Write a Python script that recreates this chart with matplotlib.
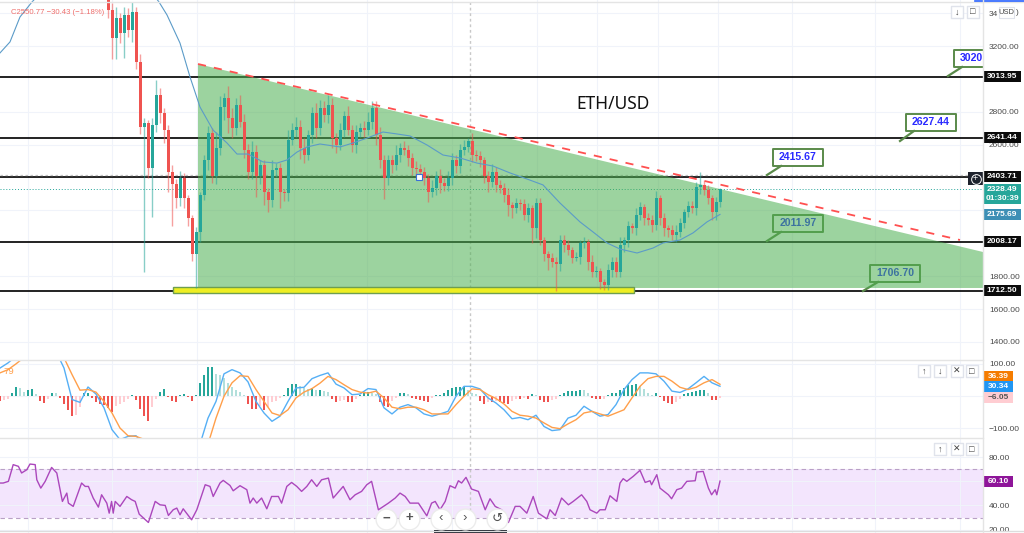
import matplotlib
matplotlib.use("Agg")
import matplotlib.pyplot as plt
import numpy as np
from matplotlib.patches import Rectangle, Polygon

plt.rcParams['font.family'] = ['Liberation Sans', 'DejaVu Sans']

# candles, one every 4 px, first one at bar 27
closes = [3419, 3249, 3370, 3279, 3389, 3297, 3407, 3103, 2707, 2732,
          2458, 2720, 2902, 2792, 2689, 2434, 2361, 2276, 2397, 2276,
          2154, 1935, 2069, 2294, 2507, 2671, 2409, 2580, 2829, 2884,
          2762, 2701, 2841, 2738, 2567, 2434, 2555, 2409, 2476, 2312,
          2263, 2446, 2458, 2312, 2306, 2628, 2689, 2707, 2580, 2537,
          2659, 2792, 2701, 2823, 2780, 2841, 2640, 2598, 2689, 2774,
          2689, 2598, 2677, 2701, 2689, 2738, 2823, 2659, 2507, 2397,
          2507, 2476, 2537, 2580, 2567, 2519, 2458, 2452, 2434, 2397,
          2312, 2336, 2409, 2367, 2349, 2397, 2507, 2470, 2567, 2586,
          2622, 2537, 2531, 2507, 2409, 2373, 2434, 2355, 2336, 2294,
          2233, 2215, 2245, 2240, 2172, 2215, 2093, 2245, 2020, 1935,
          1910, 1886, 1874, 2020, 1990, 1959, 1910, 1916, 2002, 2008,
          1886, 1825, 1830, 1764, 1746, 1837, 1886, 1825, 1990, 2020,
          2105, 2093, 2172, 2221, 2154, 2142, 2111, 2276, 2154, 2093,
          2081, 2050, 2069, 2123, 2190, 2227, 2215, 2342, 2355, 2324,
          2276, 2190, 2251, 2328.49]
first_open = 3500
wick_up = [60, 40, 70, 30, 50, 40, 60, 30, 50, 30,
           20, 40, 90, 45, 30, 30, 40, 30, 40, 30,
           20, 20, 30, 20, 30, 40, 30, 100, 70, 30,
           70, 60, 40, 60, 50, 40, 70, 40, 30, 30,
           25, 60, 30, 30, 20, 60, 40, 60, 40, 60,
           30, 40, 60, 50, 40, 60, 40, 30, 40, 30,
           60, 30, 40, 30, 40, 60, 40, 40, 50, 30,
           30, 30, 60, 30, 40, 30, 30, 40, 30, 30,
           25, 50, 30, 40, 30, 40, 40, 30, 40, 40,
           20, 50, 30, 30, 20, 30, 50, 30, 30, 30,
           40, 20, 30, 25, 30, 30, 20, 30, 30, 20,
           20, 30, 30, 30, 30, 30, 20, 30, 20, 30,
           20, 40, 30, 20, 20, 40, 30, 30, 50, 20,
           30, 20, 40, 30, 20, 30, 30, 40, 20, 30,
           20, 30, 40, 30, 20, 30, 30, 30, 80, 30,
           30, 20, 30, 10]
wick_down = [50, 130, 130, 60, 150, 40, 70, 40, 40, 880,
             60, 300, 40, 60, 80, 120, 256, 60, 50, 60,
             50, 40, 207, 60, 30, 60, 40, 50, 40, 80,
             90, 60, 40, 30, 50, 40, 40, 130, 50, 80,
             70, 40, 40, 100, 50, 50, 30, 40, 70, 50,
             30, 50, 60, 40, 40, 50, 60, 50, 30, 40,
             30, 40, 50, 30, 40, 30, 40, 60, 50, 130,
             40, 50, 30, 40, 30, 50, 40, 50, 40, 40,
             60, 30, 40, 60, 30, 30, 40, 40, 40, 30,
             30, 40, 30, 40, 40, 60, 30, 40, 30, 40,
             70, 60, 30, 40, 30, 40, 90, 60, 30, 40,
             70, 30, 165, 40, 40, 30, 30, 20, 40, 30,
             50, 30, 30, 40, 30, 30, 40, 30, 30, 40,
             40, 30, 40, 30, 40, 30, 40, 30, 40, 50,
             40, 30, 40, 30, 30, 30, 30, 40, 40, 30,
             40, 50, 50, 30]

# blue moving average on the price panel
ma_bars = [0, 2.5, 5, 8, 15, 25, 32.5, 39.75, 41.75, 45, 47.5, 50, 53.25, 56.75, 59.25, 62, 65.75, 69.25, 71.75,
           74.25, 76.75, 80, 85, 88.25, 91.75, 95.75, 99.25, 102.5, 106.75, 110.75, 115, 119.25, 123.25, 127.5,
           131.75, 135.75, 140, 145, 148.25, 151.75, 155, 159.25, 163.25, 165.75, 170, 173.25, 176.75, 180]
ma_vals = [3158, 3225, 3377, 3468, 3650, 3750, 3700, 3468, 3389, 3218, 3012, 2829, 2689, 2610, 2543, 2543, 2495, 2488, 2507,
           2555, 2586, 2604, 2586, 2610, 2640, 2677, 2665, 2653, 2598, 2537, 2519, 2488, 2470, 2428,
           2391, 2355, 2245, 2130, 2069, 2002, 1965, 1941, 1971, 2002, 2020, 2063, 2130, 2175.69]

levels = [3013.95, 2641.44, 2403.71, 2008.17, 1712.50]
level_labels = ["3013.95", "2641.44", "2403.71", "2008.17", "1712.50"]
price_ticks = [3400, 3200, 2800, 2600, 2200, 1800, 1600, 1400]
price_tick_labels = ["34", "3200.00", "2800.00", "2600.00", "", "1800.00", "1600.00", "1400.00"]
grid_px = [28, 112, 197, 294, 367, 452, 537, 597, 658, 718, 792, 875, 960]

# MACD lines, one value every 8 px
macd_line = [87, 103, 124, 150, 175, 185, 170, 139, 87, -11, -20, 28, 6, -37, -105, -136, -126, -124,
             -150, -175, -190, -200, -205, -200, -175, -150, -69, -17, 69, 82, 72, 44, -17, -53, -79, -63,
             -17, 25, 27, 54, 64, 72, 37, 25, 4, 6, 23, 20, -37, -56, -35, -27, -37, -56, -63, -56,
             -48, -1, 30, 30, 22, -6, -22, -43, -71, -67, -74, -60, -95, -108, -105, -69, -60, -32, -48, -63,
             -58, -27, 20, 51, 72, 72, 69, 46, 15, 11, 22, 41, 61, 41, 30.34]
signal_line = [72, 82, 100, 120, 150, 165, 170, 165, 119, 67, 18, 20, 12, -17, -53, -100, -124, -126,
               -135, -150, -165, -180, -190, -195, -190, -175, -150, -69, -1, 41, 63, 61, 20, -17, -53, -61,
               -43, -6, 12, 23, 40, 61, 51, 35, 20, 12, 9, 15, -6, -35, -40, -35, -35, -43, -56, -56,
               -56, -27, -1, 22, 20, 4, -8, -25, -48, -60, -63, -69, -84, -98, -102, -87, -74, -53, -48, -56,
               -63, -53, -43, -6, 30, 54, 61, 61, 46, 27, 20, 27, 41, 51, 36.39]
# MACD histogram, one value every 4 px
macd_hist = [-15, -12, -8, 8, 28, 25, 12, 18, 22, 5, -15, -22, -10, 10, 8, -5, -25, -45, -62, -60,
             -35, 8, 10, -5, -20, -25, -28, -38, -50, -30, -25, -20, -8, 4, -12, -40, -62, -78, -35, -8,
             12, 22, -3, -15, -18, 3, 6, -3, -15, 3, 40, 65, 90, 90, 70, 65, 55, 40, 28, 20,
             12, 2, -25, -40, -42, -30, -45, -35, -20, -15, -5, 3, 25, 38, 38, 30, 25, 22, 25, 18,
             20, 15, 12, -8, -18, -15, -12, -18, -20, -8, 4, 8, 12, 10, 5, -18, -30, -35, -15, -5,
             8, 8, 6, -5, -8, -12, -15, -18, -5, 2, 3, 10, 18, 25, 28, 28, 28, 20, 10, 5,
             -15, -25, -20, -20, -15, -18, -22, -25, -15, -8, -10, -6, -8, 6, 2, -12, -18, -20, -12, -8,
             3, 10, 14, 15, 17, 20, 18, 8, -5, -10, -10, -8, 4, 8, 10, 18, 25, 33, 35, 38,
             32, 22, 10, 2, 8, -3, -15, -22, -25, -20, -10, 6, 10, 12, 15, 18, 18, 10, -12, -14,
             -6.05]

# RSI read point by point
rsi_bars = [0, 0.8, 2.1, 3.3, 4.6, 5.4, 6.7, 7.5, 8.8, 9.2,
            10.2, 11.3, 12.9, 14.2, 15.6, 16.7, 17.1, 18.3, 20.4, 21.3,
            22.1, 23.3, 24.6, 25.4, 26.7, 27.3, 27.9, 28.3, 28.8, 30,
            31.7, 32.9, 33.8, 34.8, 37.1, 38.8, 40, 41.3, 42.1, 43.3,
            44.2, 45, 45.8, 47.9, 49.2, 51.3, 52.5, 53.3, 55, 55.8,
            57.5, 58.3, 60, 61.7, 62.5, 63.3, 64.2, 65.4, 66.7, 67.9,
            69.6, 70.4, 71.7, 72.9, 74.2, 75.4, 76.7, 77.9, 79.2, 80.4,
            82.1, 83.3, 85.8, 87.5, 88.8, 90.4, 91.7, 92.9, 94.6, 97.1,
            98.8, 100, 101.3, 102.5, 104.6, 106.7, 107.9, 108.8, 110, 111.3,
            112.5, 113.8, 114.6, 115.4, 116.5, 117.9, 119.6, 121.3, 122.5, 123.8,
            125.4, 127.1, 128.8, 130, 131.7, 133.3, 134.6, 136.7, 137.5, 138.8,
            140.4, 142.1, 143.3, 145.4, 146.7, 147.5, 149.2, 150, 151.3, 152.5,
            154.2, 155, 155.8, 156.7, 158.3, 160, 161.3, 162.5, 162.9, 164.2,
            165, 167.1, 167.9, 169.2, 170.4, 171.7, 173.8, 174.2, 175.8, 177.1,
            177.9, 178.8, 179.2, 180]
rsi_vals = [58.5, 58.5, 59.9, 73.7, 72.3, 66.8, 69.5, 74.2, 73.7, 61.2,
            54.3, 59.9, 71.4, 66.8, 43.3, 50.2, 41.9, 39.2, 58.5, 55.7,
            55.7, 46.1, 38.6, 48.8, 41.9, 33.6, 43.3, 33.6, 43.3, 39.2,
            47.4, 44.7, 43.3, 32.8, 25.9, 43.3, 40.5, 40, 31.7, 36.4,
            37.8, 32.2, 37.2, 28.1, 36.4, 57.1, 55.7, 47.4, 58.5, 60.7,
            56.5, 52.1, 56.3, 53, 41.9, 46.1, 41.9, 46.1, 37.2, 47.4,
            47.4, 41.9, 55.7, 59, 55.7, 51.6, 55.7, 61.2, 55.7, 61.2,
            62.6, 46.1, 55.7, 44.7, 48.8, 51.6, 57.1, 59.9, 36.4, 41.9,
            46.1, 50.2, 47.4, 41.9, 41.9, 31.4, 41.9, 43.3, 36.4, 43.3,
            56.3, 54.3, 60.4, 58.5, 63.2, 53.5, 51.6, 36.4, 45.5, 39.2,
            36.4, 25.9, 39.2, 39.2, 33.6, 47.4, 33.6, 28.9, 36.4, 31.7,
            46.1, 40.5, 43.3, 48.8, 43.3, 36.4, 33.6, 36.4, 36.4, 48,
            43.3, 58.5, 62.1, 59.9, 64, 69, 59, 60.4, 57.1, 65.4,
            54.3, 48.8, 45.5, 53, 54.3, 59.9, 60.4, 67.6, 68.1, 54.3,
            48.8, 53, 48.8, 60.1]
rsi_ticks = [80, 60, 40, 20]
rsi_tick_labels = ["80.00", "", "40.00", "20.00"]

fig = plt.figure(figsize=(10.24, 5.33), dpi=100)
W, H = 1024.0, 533.0


def panel(top, bottom):
    a = fig.add_axes([0, (H - bottom) / H, 983 / W, (bottom - top) / H])
    a.set_xlim(0, 983 / 4)
    a.set_xticks([g / 4 for g in grid_px])
    a.tick_params(length=0, labelbottom=False, labelleft=False, labelright=True, pad=4.3, labelsize=6, labelcolor="#4a4a4a")
    a.grid(True, color="#f0f3fa", lw=0.8)
    a.set_axisbelow(True)
    for s in a.spines.values():
        s.set_visible(False)
    a.axvline(470 / 4, color="#c8c8c8", lw=1, ls=(0, (2, 2)), zorder=1)
    return a


ax = panel(0, 360)
macd_ax = panel(361, 438)
rsi_ax = panel(439, 533)
ax.set_ylim(1290, 3480)
macd_ax.set_ylim(-131, 109)
rsi_ax.set_ylim(17.2, 94.9)
ax.set_yticks(price_ticks, labels=price_tick_labels)
macd_ax.set_yticks([100, 0, -100], labels=["100.00", "", "\u2212100.00"])
rsi_ax.set_yticks(rsi_ticks, labels=rsi_tick_labels)


def pos(x, y):
    # screen pixel to bar / price
    return x / 4, 3480 - 6.083 * y


# price panel
for lv in levels:
    ax.axhline(lv, color="#111111", lw=1.3, zorder=1)
ax.axhline(2413, color="#c4c4c4", lw=0.9, ls=(0, (2, 2)), zorder=1)
ax.axhline(closes[-1], color="#26a69a", lw=0.7, ls=(0, (1, 2)), zorder=1)


def callout(label, anchor, x0, y0, w=50, color="#2a2aff"):
    left, top = pos(x0, y0)
    right, bot = pos(x0 + w, y0 + 17)
    ax.add_patch(Rectangle((left, bot), right - left, top - bot, fc="white", ec="#5a8a4a", lw=1.4, joinstyle="round", zorder=1.4))
    ax_, ay = pos(*anchor)
    mx, my = pos(x0 + 8, y0 + 17)
    ax.plot([ax_, mx], [ay, my], color="#5a8a4a", lw=1.6, zorder=1.4)
    ax.text((left + right) / 2 if w == 50 else left + 1.5, (top + bot) / 2, label, color=color, fontsize=7.6, fontweight="bold",
            ha="center" if w == 50 else "left", va="center", zorder=1.5)


callout("3020", (948, 76), 954, 50, w=60)
callout("2627.44", (900, 141), 906, 114)
callout("2415.67", (767, 175), 773, 149)
callout("2011.97", (767, 241), 773, 215)
callout("1706.70", (863, 291), 870, 265)

tri = [pos(198, 64), pos(983, 252), pos(983, 288), pos(198, 288)]
ax.add_patch(Polygon(tri, closed=True, fc="#4caf50", alpha=0.55, ec="none", zorder=2))
x1, y1 = pos(173, 287)
x2, y2 = pos(634, 293)
ax.add_patch(Rectangle((x1, y2), x2 - x1, y1 - y2, fc="#eeee22", ec="#6e9e50", lw=1, zorder=2.5))
tx = [pos(198, 64)[0], pos(960, 240)[0]]
ty = [pos(198, 64)[1], pos(960, 240)[1]]
ax.plot(tx, ty, color="#ff5050", lw=1.3, ls=(0, (4.5, 4.5)), zorder=4)

# candles
closes_arr = np.array(closes, dtype=float)
opens_arr = np.r_[first_open, closes_arr[:-1]]
bars = 27 + np.arange(len(closes))
cols = np.where(closes_arr >= opens_arr, "#26a69a", "#ef5350")
highs = np.maximum(opens_arr, closes_arr) + np.array(wick_up)
lows = np.minimum(opens_arr, closes_arr) - np.array(wick_down)
ax.vlines(bars, lows, highs, colors=cols, lw=1, alpha=0.55, zorder=3)
ax.bar(bars, np.abs(closes_arr - opens_arr), bottom=np.minimum(opens_arr, closes_arr), width=0.75, color=cols, zorder=3)
ax.plot(ma_bars, ma_vals, color="#5b9bc8", lw=0.8, zorder=3.5)
ax.plot([419 / 4], [2403.71], marker="s", ms=5, mfc="white", mec="#3a6fd8", mew=0.8, zorder=5)
ax.text(*pos(613, 104), "ETH/USD", fontsize=12.5, family="Noto Sans", ha="center", va="center", color="#111111", zorder=5)

# MACD panel
hist = np.array(macd_hist, dtype=float)
prev = np.r_[hist[0], hist[:-1]]
hist_cols = []
for h, p in zip(hist, prev):
    if h >= 0:
        hist_cols.append("#26a69a" if h >= p else "#b2dfdb")
    else:
        hist_cols.append("#ef5350" if h <= p else "#ffcdd2")
macd_ax.bar(np.arange(len(hist)), hist, width=0.7, color=hist_cols, zorder=2)
macd_ax.plot(np.arange(len(macd_line)) * 2, macd_line, color="#55aff5", lw=1, zorder=3)
macd_ax.plot(np.arange(len(signal_line)) * 2, signal_line, color="#ff9f4a", lw=1, zorder=3)

# RSI panel
rsi_ax.axhspan(30, 70, fc="#f3e5fd", ec="none", zorder=0.5)
rsi_ax.axhline(70, color="#b9a0c6", lw=0.8, ls=(0, (4, 3)), zorder=2)
rsi_ax.axhline(30, color="#b9a0c6", lw=0.8, ls=(0, (4, 3)), zorder=2)
rsi_ax.plot(rsi_bars, rsi_vals, color="#ab47bc", lw=1, zorder=3)


def tag(a, y, h, text, bg, fg="white", w=38, weight="bold"):
    tr = a.get_yaxis_transform()
    a.add_patch(Rectangle((1.0, y - h / 2), w / 983, h, transform=tr, fc=bg, ec="none", clip_on=False, zorder=6))
    a.text(1.0 + (w / 2) / 983, y, text, transform=tr, color=fg, fontsize=6, fontweight=weight, ha="center", va="center", clip_on=False, zorder=7,
           linespacing=1.35)


for lv, lab in zip(levels, level_labels):
    tag(ax, lv, 67, lab, "#0b0b0b")
tag(ax, 2300, 122, "2328.49\n01:30:39", "#26a69a")
tag(ax, 2175.69, 67, "2175.69", "#3d8fb5")
tag(macd_ax, 62, 34, "36.39", "#f57c00", w=30)
tag(macd_ax, 30.34, 34, "30.34", "#2196f3", w=30)
tag(macd_ax, -6.05, 34, "\u22126.05", "#ffcdd2", fg="#555555", w=30)
tag(rsi_ax, 60.10, 9, "60.10", "#8e1599", w=30)

# chrome drawn in screen pixels
ui = fig.add_axes([0, 0, 1, 1], zorder=10)
ui.set_xlim(0, W)
ui.set_ylim(H, 0)
ui.axis("off")
ui.plot([0, W], [1.5, 1.5], color="#e4e4e4", lw=1)
ui.plot([975, W], [0.5, 0.5], color="#2962ff", lw=1.2)
ui.plot([0, 983], [360, 360], color="#e4e4e4", lw=1)
ui.plot([0, 983], [438, 438], color="#e4e4e4", lw=1)
ui.plot([0, W], [531, 531], color="#dddddd", lw=1)
ui.plot([983, 983], [0, H], color="#e4e4e4", lw=1)
ui.add_patch(Rectangle((434, 530), 73, 3, fc="#131722", ec="none"))

ui.text(11, 13, "C2550.77 \u221230.43 (\u22121.18%)", color="#ef6f6c", fontsize=5.6, va="center")
ui.text(3, 371, "79", color="#ff9f4a", fontsize=6.8, va="center")

for bx, by, sym in [(957, 12, "\u2193"), (973, 12, "\u25a1"), (924, 371, "\u2191"), (940, 371, "\u2193"), (957, 371, "\u2715"), (972, 371, "\u25a1"),
                    (940, 449, "\u2191"), (957, 449, "\u2715"), (972, 449, "\u25a1")]:
    ui.add_patch(Rectangle((bx - 6, by - 6), 12, 12, fc="white", ec="#e0e3eb", lw=1, joinstyle="round"))
    ui.text(bx, by, sym, fontsize=6.5, color="#444444", ha="center", va="center")

ui.add_patch(Rectangle((999, 7), 15, 11, fc="white", ec="#e0e3eb", lw=0.8, joinstyle="round"))
ui.text(1006.5, 12.5, "USD", fontsize=5.4, color="#444444", ha="center", va="center")
ui.text(1017, 13, ")", fontsize=6, color="#4a4a4a", ha="center", va="center")

ui.add_patch(Rectangle((968, 172), 15, 13, fc="#1e222d", ec="none"))
ui.plot([975.5], [178.5], marker="o", ms=7, mfc="none", mec="white", mew=0.7)
ui.text(975.5, 178.2, "+", fontsize=6.5, color="white", ha="center", va="center")

for bx, sym in [(386, "\u2212"), (409, "+"), (441, "\u2039"), (465, "\u203a"), (497, "\u21ba")]:
    ui.plot([bx], [519], marker="o", ms=15, mfc="white", mec="#ececec", mew=1)
    ui.text(bx, 518.5, sym, fontsize=9.5, fontweight="bold" if sym in "\u2212+" else "normal", color="#555555", ha="center", va="center")

fig.savefig("out.png", dpi=100)
